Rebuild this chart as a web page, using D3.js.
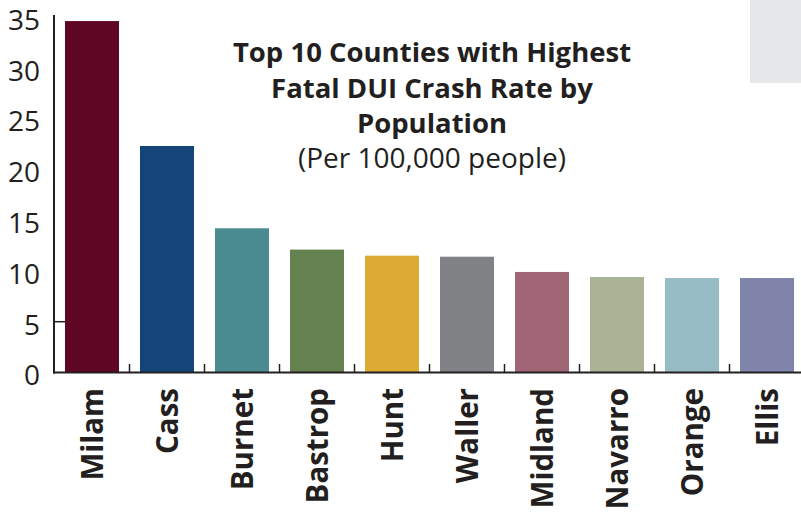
<!DOCTYPE html>
<html><head><meta charset="utf-8">
<script src="https://cdn.jsdelivr.net/npm/d3@7"></script>
<style>body{margin:0;background:#fff}svg{display:block}</style>
</head><body>
<svg id="c" width="801" height="514"></svg>
<script>
const counties = ["Milam","Cass","Burnet","Bastrop","Hunt","Waller","Midland","Navarro","Orange","Ellis"];
const rates = [34.6, 22.3, 14.2, 12.1, 11.5, 11.4, 9.9, 9.4, 9.3, 9.3];
const barColors = ["#5e0623","#13457a","#4a8a91","#64824f","#ddaa33","#818286","#a06675","#aab396","#98bcc5","#8084aa"];
const yTicks = [0,5,10,15,20,25,30,35];
const titleLines = ["Top 10 Counties with Highest","Fatal DUI Crash Rate by","Population"];
const subtitle = "(Per 100,000 people)";

const svg = d3.select("#c");
const ink = "#231f20";
const font = "'Open Sans', sans-serif";

// grey box
svg.append("rect").attr("x",750).attr("y",0).attr("width",51).attr("height",83).attr("fill","#e6e7e8");

const x = d3.scaleBand().domain(counties).range([54.5, 804.5]).paddingInner(0.28).paddingOuter(0.14);
const y = d3.scaleLinear().domain([0,35]).range([372.5, 17]);

svg.selectAll("rect.bar").data(counties).join("rect")
  .attr("class","bar")
  .attr("x", d=>x(d)).attr("width", x.bandwidth())
  .attr("y", (d,i)=>y(rates[i])).attr("height",(d,i)=>y(0)-y(rates[i]))
  .attr("fill",(d,i)=>barColors[i]);

// y axis
const yAxis = svg.append("g").attr("transform","translate(54,0)")
  .call(d3.axisLeft(y).tickValues(yTicks).tickSize(0).tickPadding(14));
yAxis.select(".domain").remove();
yAxis.selectAll("text").attr("font-family",font).attr("font-size",28).attr("fill",ink).attr("dy","0.44em");
svg.append("line").attr("x1",54).attr("x2",54).attr("y1",15).attr("y2",373.5).attr("stroke",ink).attr("stroke-width",2);
svg.append("line").attr("x1",54).attr("x2",66).attr("y1",y(5)).attr("y2",y(5)).attr("stroke",ink).attr("stroke-width",1.5);

// x axis
svg.append("line").attr("x1",53).attr("x2",801).attr("y1",372.5).attr("y2",372.5).attr("stroke",ink).attr("stroke-width",2);
const step = x.step();
const sep = counties.slice(1).map(d => x(d) - (step - x.bandwidth())/2);
svg.selectAll("line.sep").data(sep).join("line").attr("class","sep")
  .attr("x1",d=>d).attr("x2",d=>d).attr("y1",364).attr("y2",372.5).attr("stroke",ink).attr("stroke-width",1.5);

svg.selectAll("text.xl").data(counties).join("text").attr("class","xl")
  .attr("transform", d=>`translate(${x(d)+x.bandwidth()/2},388) rotate(-90)`)
  .attr("dy","0.36em")
  .attr("text-anchor","end")
  .attr("font-family",font).attr("font-weight","bold").attr("font-size",29.5).attr("fill",ink)
  .text(d=>d);

// title
svg.selectAll("text.t").data(titleLines).join("text").attr("class","t")
  .attr("x",432).attr("y",(d,i)=>62+i*35.5)
  .attr("text-anchor","middle").attr("font-family",font).attr("font-weight","bold").attr("font-size",27.5).attr("fill",ink)
  .text(d=>d);
svg.append("text").attr("x",432).attr("y",168).attr("text-anchor","middle")
  .attr("font-family",font).attr("font-size",28).attr("fill",ink).text(subtitle);
</script>
</body></html>
